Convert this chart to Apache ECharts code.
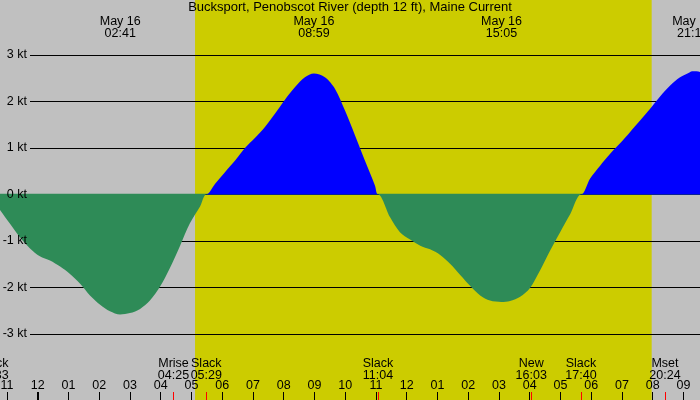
<!DOCTYPE html>
<html>
<head>
    <meta charset="utf-8">
    <script src="https://cdn.jsdelivr.net/npm/echarts@6.0.0/dist/echarts.min.js"></script>
    <style>
        html, body { margin: 0; padding: 0; }
    </style>
</head>
<body>
    <div id="main" style="width: 700px;height:400px;"></div>

    <script type="text/javascript">
        // hours from May 16 00:00 (negative = May 15) and current in knots
        var times = [-1.58, -1.23, -0.90, -0.58, -0.25, 0.07, 0.40, 0.73, 1.05, 1.38, 1.70, 2.03, 2.35, 2.68,
            3.00, 3.33, 3.65, 3.98, 4.30, 4.63, 4.95, 5.28, 5.48, 5.77, 6.09, 6.42, 6.74, 7.07, 7.39, 7.72,
            8.04, 8.37, 8.69, 8.98, 9.34, 9.67, 9.99, 10.32, 10.64, 10.97, 11.07, 11.46, 11.78, 12.11, 12.44,
            12.76, 13.09, 13.41, 13.74, 14.06, 14.39, 14.71, 15.08, 15.36, 15.69, 16.01, 16.34, 16.67, 16.99,
            17.32, 17.67, 17.96, 18.29, 18.61, 18.94, 19.26, 19.59, 19.91, 20.24, 20.56, 20.89, 21.21, 21.30,
            21.55, 21.80];
        var speeds = [0, -0.33, -0.63, -0.92, -1.16, -1.33, -1.42, -1.55, -1.71, -1.92, -2.17, -2.37, -2.51, -2.58,
            -2.55, -2.46, -2.28, -1.98, -1.58, -1.10, -0.62, -0.26, 0, 0.23, 0.48, 0.73, 1.00, 1.22, 1.45, 1.74,
            2.04, 2.31, 2.52, 2.60, 2.52, 2.27, 1.81, 1.27, 0.73, 0.19, 0, -0.49, -0.81, -0.97, -1.10,
            -1.18, -1.30, -1.49, -1.73, -1.96, -2.17, -2.28, -2.31, -2.29, -2.20, -2.01, -1.63, -1.20, -0.81,
            -0.42, 0, 0.34, 0.62, 0.87, 1.10, 1.34, 1.59, 1.84, 2.11, 2.34, 2.52, 2.63, 2.65,
            2.63, 2.50];

        var hourTicks = [-1, 0, 1, 2, 3, 4, 5, 6, 7, 8, 9, 10, 11, 12, 13, 14, 15, 16, 17, 18, 19, 20, 21];

        var eventNames = ['Slack', 'Mrise', 'Slack', 'Slack', 'New', 'Slack', 'Mset'];
        var eventClock = ['22:33', '04:25', '05:29', '11:04', '16:03', '17:40', '20:24'];
        var eventDay = [-1, 0, 0, 0, 0, 0, 0];

        var peakLabel = ['May 16', 'May 16', 'May 16', 'May 16'];
        var peakClock = ['02:41', '08:59', '15:05', '21:18'];

        var daylight = ['05:07', '19:58'];

        // axis window -2..22 h; the grid hangs off both canvas edges so 23:00 lands near x=7
        var axisStart = -2, axisEnd = 22;
        var gridL = -23.8, gridR = -14.2;

        function toHours(s, day) {
            var p = s.split(':');
            return (day || 0) * 24 + parseInt(p[0], 10) + parseInt(p[1], 10) / 60;
        }

        var eventTimes = eventClock.map(function (s, i) { return toHours(s, eventDay[i]); });
        var peakTimes = peakClock.map(function (s) { return toHours(s, 0); });
        // flood (>= 0) and ebb (<= 0) parts, each filled to the zero line
        var flood = times.map(function (t, i) { return [t, Math.max(speeds[i], 0)]; });
        var ebb = times.map(function (t, i) { return [t, Math.min(speeds[i], 0)]; });
        var dayBand = [[toHours(daylight[0]), 1], [toHours(daylight[1]), 1]];

        function nearest(arr, v) {
            var best = 0;
            for (var i = 1; i < arr.length; i++) {
                if (Math.abs(arr[i] - v) < Math.abs(arr[best] - v)) best = i;
            }
            return best;
        }

        var font = 'Liberation Sans';
        var fs = 12.5;
        var myChart = echarts.init(document.getElementById('main'));

        function plainGrid(l, r, t, b) {
            return { left: l, right: r, top: t, bottom: b, outerBoundsMode: 'none', containLabel: false };
        }

        function timeAxis(extra) {
            var ax = {
                gridIndex: 0, type: 'value', position: 'bottom', min: axisStart, max: axisEnd, z: 5,
                axisLine: { show: false },
                axisTick: { show: false },
                axisLabel: { show: false },
                splitLine: { show: false }
            };
            for (var k in extra) ax[k] = extra[k];
            return ax;
        }

        function curveSeries(name, data, color, origin) {
            return {
                name: name,
                type: 'line',
                xAxisIndex: 5,
                yAxisIndex: 2,
                data: data,
                symbol: 'none',
                smooth: 0.3,
                lineStyle: { width: 0 },
                itemStyle: { color: color },
                areaStyle: { color: color, opacity: 1, origin: origin },
                z: 2
            };
        }

        option = {
            animation: false,
            backgroundColor: '#c0c0c0',
            textStyle: { fontFamily: font, fontSize: fs, color: '#000' },
            title: {
                text: 'Bucksport, Penobscot River (depth 12 ft), Maine Current',
                left: 'center',
                top: 1,
                padding: 0,
                textStyle: { fontFamily: font, fontSize: 13, fontWeight: 'normal', color: '#000' }
            },
            grid: [
                plainGrid(gridL, gridR, 0, 0),
                plainGrid(30, 0, 55, 66),
                plainGrid(gridL, gridR, 55, 66),
                plainGrid(30, 0, 55, 66)
            ],
            xAxis: [
                timeAxis({
                    axisTick: { inside: true, length: 8, customValues: hourTicks, lineStyle: { color: '#000' } },
                    axisLabel: {
                        inside: true, margin: 8, customValues: hourTicks, color: '#000', fontFamily: font, fontSize: fs,
                        formatter: function (v) {
                            var h = ((Math.round(v) % 12) + 12) % 12;
                            if (h === 0) h = 12;
                            return (h < 10 ? '0' : '') + h;
                        }
                    }
                }),
                timeAxis({
                    axisTick: { inside: true, length: 8, customValues: eventTimes, lineStyle: { color: '#ff0000' } },
                    axisLabel: {
                        inside: true, margin: 18.5, customValues: eventTimes, color: '#000',
                        fontFamily: font, fontSize: fs, lineHeight: 12,
                        formatter: function (v) {
                            var i = nearest(eventTimes, v);
                            return eventNames[i] + '\n' + eventClock[i];
                        }
                    }
                }),
                timeAxis({
                    axisTick: { inside: true, length: 8, customValues: [0], lineStyle: { color: '#000', width: 2 } }
                }),
                timeAxis({
                    position: 'top',
                    axisLabel: {
                        inside: true, margin: 16, customValues: peakTimes, color: '#000',
                        fontFamily: font, fontSize: fs, lineHeight: 12,
                        formatter: function (v) {
                            var i = nearest(peakTimes, v);
                            return peakLabel[i] + '\n' + peakClock[i];
                        }
                    }
                }),
                { gridIndex: 1, type: 'value', show: false, min: 0, max: 1 },
                { gridIndex: 2, type: 'value', show: false, min: axisStart, max: axisEnd },
                { gridIndex: 3, type: 'value', show: false, min: 0, max: 1 }
            ],
            yAxis: [
                { gridIndex: 0, type: 'value', show: false, min: 0, max: 1 },
                {
                    gridIndex: 1, type: 'value', min: -3, max: 3, interval: 1, z: 1.5,
                    axisLine: { show: false }, axisTick: { show: false }, axisLabel: { show: false },
                    splitLine: { show: true, lineStyle: { color: '#000', width: 1 } }
                },
                { gridIndex: 2, type: 'value', show: false, min: -3, max: 3 },
                {
                    gridIndex: 3, type: 'value', min: -3, max: 3, interval: 1, z: 10,
                    axisLine: { show: false }, axisTick: { show: false },
                    splitLine: { show: false },
                    axisLabel: {
                        margin: 3, color: '#000', fontFamily: font, fontSize: fs,
                        formatter: function (v) { return v + ' kt'; }
                    }
                }
            ],
            series: [
                {
                    type: 'line',
                    xAxisIndex: 0,
                    yAxisIndex: 0,
                    data: dayBand,
                    z: 1,
                    silent: true,
                    symbol: 'none',
                    lineStyle: { width: 0 },
                    itemStyle: { color: '#cccc00' },
                    areaStyle: { color: '#cccc00', opacity: 1 }
                },
                // ebb fill starts a hair above zero so it hides the 0 kt line, as in the original
                curveSeries('ebb', ebb, '#2e8b57', 0.015),
                curveSeries('flood', flood, '#0000ff', 'auto')
            ]
        };

        myChart.setOption(option);
    </script>
</body>
</html>
